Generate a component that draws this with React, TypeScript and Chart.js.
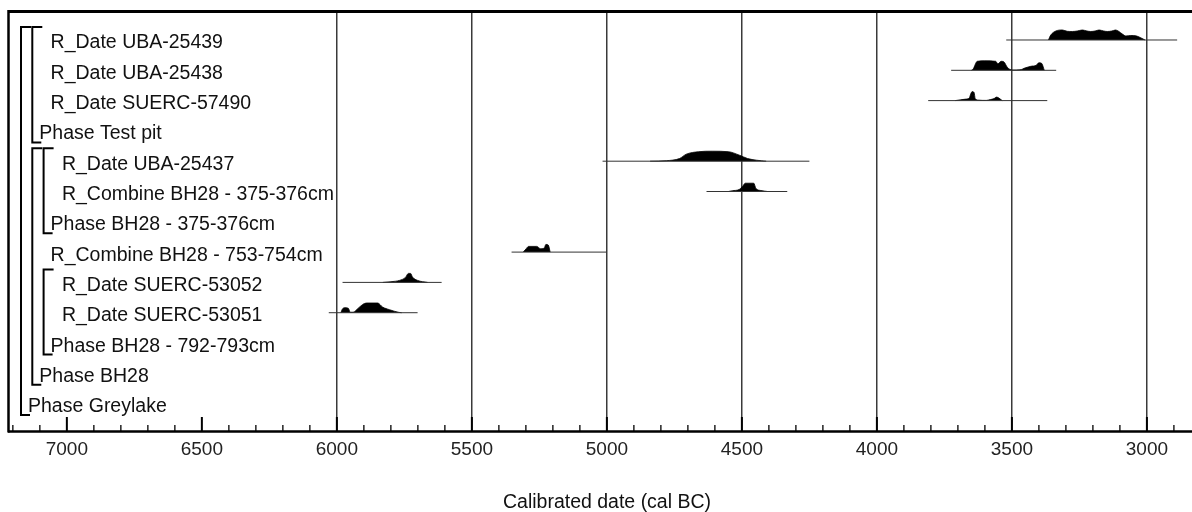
import React, { useEffect, useRef } from 'react';
import { Chart, registerables } from 'chart.js';

Chart.register(...registerables);

// ---------- data ----------
const rowLabels = [
  'R_Date UBA-25439',
  'R_Date UBA-25438',
  'R_Date SUERC-57490',
  'Phase Test pit',
  'R_Date UBA-25437',
  'R_Combine BH28 - 375-376cm',
  'Phase BH28 - 375-376cm',
  'R_Combine BH28 - 753-754cm',
  'R_Date SUERC-53052',
  'R_Date SUERC-53051',
  'Phase BH28 - 792-793cm',
  'Phase BH28',
  'Phase Greylake',
];
const rowLevels = [2, 2, 2, 1, 3, 3, 2, 2, 3, 3, 2, 1, 0];

// phase brackets: first row inside, row of the phase label, nesting level
const phaseFirstRow = [0, 0, 4, 4, 8];
const phaseLastRow = [12, 3, 11, 6, 10];
const phaseLevels = [0, 1, 1, 2, 2];

const xAxisTitle = 'Calibrated date (cal BC)';
const xAxisMin = 2833; // cal BC (right edge)
const xAxisMax = 7218; // cal BC (left edge)
const majorStep = 500;
const minorStep = 100;
const gridFrom = 6000;

// probability distributions: [year cal BC, relative probability]
const uba25439 = [[3365, 0], [3356, 5], [3337, 9], [3313, 10], [3295, 8.7], [3276, 8.5], [3258, 9], [3239, 10], [3222, 9], [3208, 8.5], [3192, 9], [3177, 10], [3160, 9], [3147, 8.5], [3130, 9], [3116, 10], [3091, 6], [3078, 4], [3060, 4.5], [3041, 4.2], [3025, 2.5], [3007, 0]];
const uba25438 = [[3650, 0], [3643, 1.5], [3632, 8], [3628, 9], [3600, 9.5], [3560, 9], [3552, 6.5], [3540, 9], [3530, 8.5], [3517, 3], [3499, 0.3], [3470, 0.5], [3450, 2.5], [3430, 4], [3410, 5], [3400, 7.5], [3390, 7], [3380, 0]];
const suerc57490 = [[3710, 0], [3690, 0.8], [3670, 1.5], [3658, 2.5], [3652, 7], [3647, 9], [3640, 8], [3636, 2], [3625, 0.5], [3595, 0.2], [3580, 1], [3566, 2], [3557, 3.5], [3548, 2.5], [3536, 0]];
const uba25437 = [[4840, 0], [4780, 0.5], [4731, 2.7], [4706, 7], [4660, 9.5], [4610, 10], [4550, 9.5], [4509, 6], [4479, 2.7], [4446, 1], [4410, 0]];
const combine375 = [[4550, 0], [4535, 0.8], [4510, 2], [4498, 5], [4487, 8.3], [4456, 8.3], [4448, 3], [4430, 1], [4405, 0]];
const combine753 = [[5310, 0], [5300, 3], [5290, 5.7], [5260, 5.7], [5245, 3.3], [5232, 4], [5226, 7.7], [5217, 7], [5210, 0]];
const suerc53052 = [[5830, 0], [5800, 0.7], [5768, 2], [5746, 5], [5735, 9], [5727, 9], [5720, 5.3], [5701, 2], [5664, 0]];
const suerc53051 = [[5985, 0], [5980, 3.5], [5970, 5], [5958, 4.5], [5950, 0.5], [5940, 0.5], [5923, 4], [5904, 8.3], [5890, 9.7], [5849, 9.7], [5831, 5.7], [5805, 3], [5770, 0.3], [5760, 0]];

const distributions = [uba25439, uba25438, suerc57490, uba25437, combine375, combine753, suerc53052, suerc53051];
const distRows = [0, 1, 2, 4, 5, 7, 8, 9];
const rangeStart = [3521, 3725, 3810, 5016, 4631, 5353, 5979, 6030];
const rangeEnd = [2888, 3336, 3369, 4250, 4332, 5001, 5612, 5701];

// ---------- style ----------
const FONT = '"Liberation Sans", Arial, Helvetica, sans-serif';
const PROB_SCALE = 1 / 30.3; // rows per probability unit

const overlayPlugin = {
  id: 'oxcalOverlay',
  afterDraw(chart: any) {
    const { ctx, chartArea: a, scales } = chart;
    const x = scales.x;
    const y = scales.y;
    ctx.save();
    ctx.strokeStyle = '#000';
    ctx.lineCap = 'butt';
    const line = (x1: number, y1: number, x2: number, y2: number) => {
      ctx.beginPath();
      ctx.moveTo(x1, y1);
      ctx.lineTo(x2, y2);
      ctx.stroke();
    };
    // frame
    ctx.lineWidth = 3;
    line(a.left, a.top - 0.5, a.right, a.top - 0.5);
    ctx.lineWidth = 2.5;
    line(a.left + 0.5, a.top - 2, a.left + 0.5, a.bottom + 1.5);
    line(a.left, a.bottom + 0.5, a.right, a.bottom + 0.5);
    // ticks (inward)
    const first = Math.ceil(xAxisMin / minorStep) * minorStep;
    for (let v = first; v <= xAxisMax; v += minorStep) {
      const px = x.getPixelForValue(v);
      const major = v % majorStep === 0;
      ctx.lineWidth = major ? 2 : 1.3;
      line(px, a.bottom, px, a.bottom - (major ? 14 : 6));
    }
    // brackets
    ctx.lineWidth = 2;
    for (let i = 0; i < phaseLevels.length; i++) {
      const xv = a.left + 13 + 11.3 * phaseLevels[i];
      const yt = y.getPixelForValue(phaseFirstRow[i]) - 13;
      const yb = y.getPixelForValue(phaseLastRow[i]) + 11.5;
      ctx.beginPath();
      ctx.moveTo(xv + 10, yt);
      ctx.lineTo(xv, yt);
      ctx.lineTo(xv, yb);
      ctx.lineTo(xv + 9, yb);
      ctx.stroke();
    }
    // labels
    ctx.fillStyle = '#111';
    ctx.font = `19.5px ${FONT}`;
    ctx.textAlign = 'left';
    ctx.textBaseline = 'alphabetic';
    rowLabels.forEach((lab, r) => {
      const lx = a.left + 20 + 11.3 * rowLevels[r];
      ctx.fillText(lab, lx, y.getPixelForValue(r) + 8.5);
    });
    // axis title
    ctx.textAlign = 'center';
    ctx.textBaseline = 'middle';
    ctx.fillText(xAxisTitle, (a.left + a.right) / 2 + 7, 503);
    ctx.restore();
  },
};

export default function App() {
  const canvasRef = useRef<HTMLCanvasElement | null>(null);

  useEffect(() => {
    if (!canvasRef.current) return;
    const datasets: any[] = [];
    distributions.forEach((pts, i) => {
      const row = distRows[i];
      datasets.push({
        data: [
          { x: rangeStart[i], y: row },
          { x: rangeEnd[i], y: row },
        ],
        borderColor: '#333',
        borderWidth: 1,
        pointRadius: 0,
        fill: false,
      });
      datasets.push({
        data: pts.map(([yr, p]) => ({ x: yr, y: row - p * PROB_SCALE })),
        borderColor: '#000',
        borderWidth: 0.8,
        backgroundColor: '#000',
        pointRadius: 0,
        cubicInterpolationMode: 'monotone',
        fill: { value: row },
      });
    });

    const chart = new Chart(canvasRef.current, {
      type: 'line',
      data: { datasets },
      options: {
        animation: false,
        responsive: false,
        devicePixelRatio: 1,
        layout: { padding: { left: 8, top: 12, right: 0, bottom: 0 } },
        plugins: { legend: { display: false }, tooltip: { enabled: false } },
        scales: {
          x: {
            type: 'linear',
            reverse: true,
            min: xAxisMin,
            max: xAxisMax,
            afterFit: (scale: any) => {
              scale.height = 81;
            },
            border: { display: false },
            grid: {
              drawTicks: false,
              lineWidth: 1.5,
              color: (c: any) =>
                c.tick && c.tick.value % majorStep === 0 && c.tick.value <= gridFrom
                  ? '#3a3a3a'
                  : 'rgba(0,0,0,0)',
            },
            ticks: {
              stepSize: minorStep,
              autoSkip: false,
              maxRotation: 0,
              includeBounds: false,
              padding: 7,
              color: '#222',
              font: { family: FONT, size: 19 },
              callback: (v: any) => (Number(v) % majorStep === 0 ? String(v) : ''),
            },
          },
          y: {
            type: 'linear',
            display: false,
            reverse: true,
            min: -0.924,
            max: 12.904,
          },
        },
      },
      plugins: [overlayPlugin],
    } as any);
    return () => chart.destroy();
  }, []);

  return (
    <div style={{ position: 'absolute', left: 0, top: 0, width: 1192, height: 512, background: '#fff' }}>
      <canvas ref={canvasRef} width={1192} height={512} />
    </div>
  );
}
